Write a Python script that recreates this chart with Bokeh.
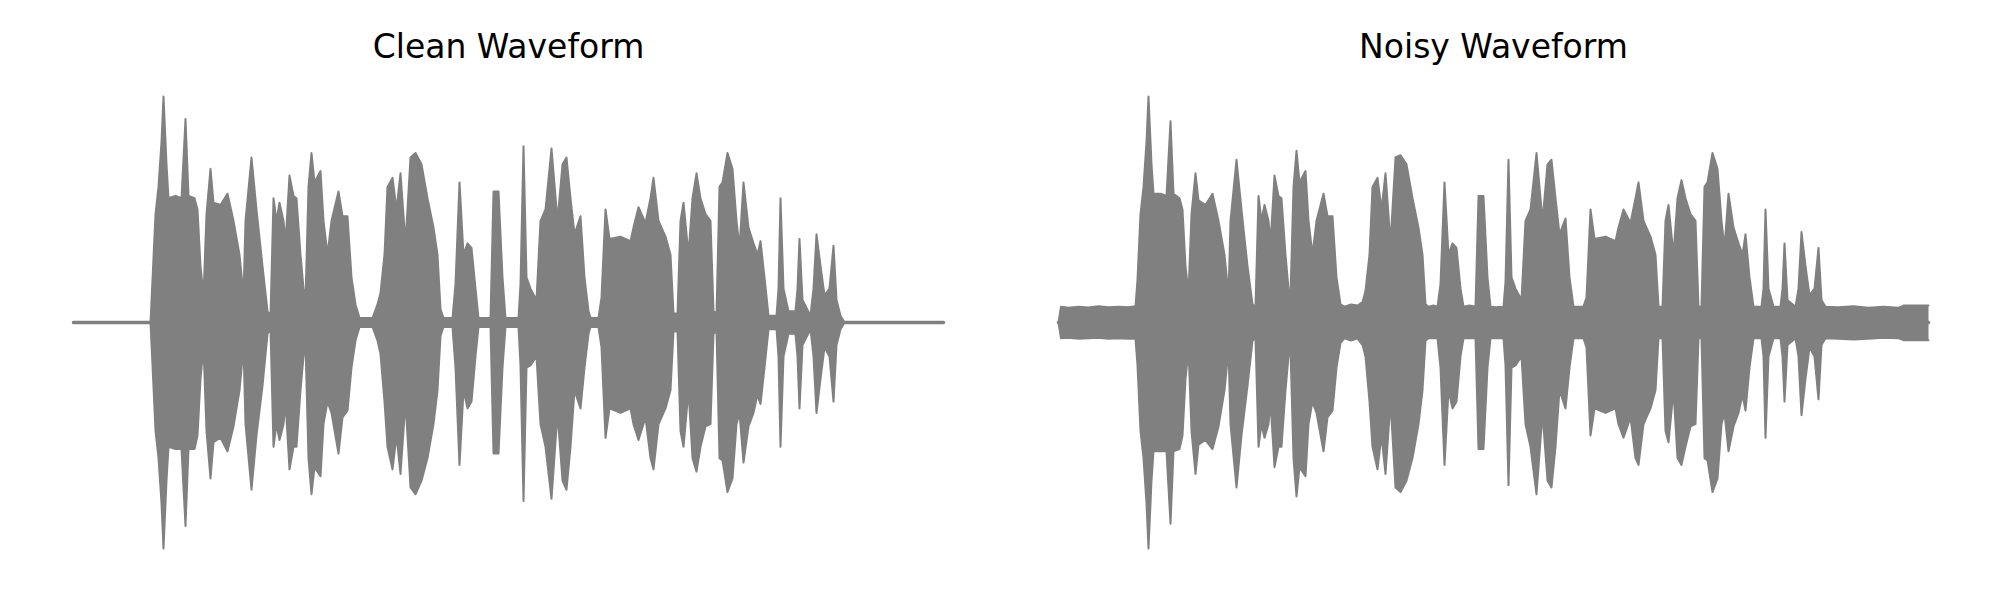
from bokeh.plotting import figure
from bokeh.layouts import row
from bokeh.models import Range1d, Label
from bokeh.embed import file_html
from bokeh.resources import INLINE

# ---- data: amplitude envelope (upper / lower) ----
titles = ["Clean Waveform", "Noisy Waveform"]

t_clean = [0.000, 0.308, 0.316, 0.328, 0.340, 0.352, 0.360, 0.372, 0.380, 0.408,
           0.432, 0.448, 0.460, 0.484, 0.496, 0.508, 0.520, 0.532, 0.548, 0.560,
           0.588, 0.616, 0.640, 0.664, 0.680, 0.688, 0.712, 0.732, 0.756, 0.776,
           0.788, 0.800, 0.812, 0.824, 0.840, 0.848, 0.864, 0.880, 0.892, 0.908,
           0.920, 0.928, 0.940, 0.952, 0.964, 0.988, 1.000, 1.016, 1.032, 1.060,
           1.076, 1.096, 1.112, 1.128, 1.144, 1.196, 1.216, 1.228, 1.244, 1.256,
           1.276, 1.292, 1.308, 1.328, 1.348, 1.368, 1.392, 1.416, 1.440, 1.456,
           1.468, 1.480, 1.516, 1.528, 1.544, 1.560, 1.576, 1.592, 1.608, 1.620,
           1.668, 1.680, 1.700, 1.716, 1.728, 1.780, 1.788, 1.800, 1.812, 1.828,
           1.852, 1.868, 1.888, 1.912, 1.936, 1.956, 1.972, 1.988, 2.004, 2.028,
           2.044, 2.060, 2.068, 2.100, 2.112, 2.128, 2.144, 2.188, 2.228, 2.240,
           2.260, 2.288, 2.308, 2.320, 2.340, 2.368, 2.388, 2.400, 2.416, 2.428,
           2.440, 2.460, 2.476, 2.492, 2.508, 2.528, 2.548, 2.560, 2.572, 2.584,
           2.596, 2.616, 2.636, 2.652, 2.664, 2.680, 2.700, 2.720, 2.736, 2.748,
           2.764, 2.780, 2.812, 2.820, 2.828, 2.840, 2.860, 2.888, 2.896, 2.904,
           2.916, 2.948, 2.960, 2.972, 2.988, 3.004, 3.024, 3.040, 3.052, 3.068,
           3.084, 3.480]
upper_clean = [0.00, 0.00, 0.19, 0.48, 0.60, 0.80, 1.00, 0.70, 0.55, 0.56,
               0.55, 0.90, 0.56, 0.55, 0.50, 0.25, 0.12, 0.48, 0.68, 0.53,
               0.52, 0.57, 0.45, 0.30, 0.12, 0.45, 0.73, 0.50, 0.25, 0.05,
               0.03, 0.55, 0.45, 0.53, 0.45, 0.35, 0.65, 0.56, 0.55, 0.30,
               0.15, 0.10, 0.60, 0.75, 0.62, 0.67, 0.45, 0.30, 0.45, 0.58,
               0.47, 0.47, 0.20, 0.08, 0.02, 0.02, 0.08, 0.13, 0.30, 0.60,
               0.64, 0.50, 0.66, 0.35, 0.73, 0.75, 0.70, 0.55, 0.42, 0.30,
               0.06, 0.02, 0.02, 0.17, 0.62, 0.30, 0.35, 0.33, 0.15, 0.02,
               0.02, 0.58, 0.58, 0.20, 0.02, 0.02, 0.17, 0.78, 0.20, 0.15,
               0.10, 0.45, 0.50, 0.77, 0.45, 0.70, 0.73, 0.55, 0.39, 0.47,
               0.20, 0.05, 0.02, 0.02, 0.11, 0.50, 0.37, 0.38, 0.36, 0.42,
               0.51, 0.44, 0.55, 0.64, 0.45, 0.38, 0.30, 0.04, 0.04, 0.45,
               0.53, 0.30, 0.55, 0.66, 0.55, 0.48, 0.45, 0.05, 0.04, 0.60,
               0.62, 0.75, 0.68, 0.45, 0.33, 0.62, 0.42, 0.35, 0.30, 0.36,
               0.20, 0.03, 0.03, 0.15, 0.55, 0.15, 0.05, 0.05, 0.15, 0.37,
               0.10, 0.03, 0.15, 0.39, 0.25, 0.12, 0.15, 0.34, 0.10, 0.03,
               0.00, 0.00]
lower_clean = [0.00, 0.00, -0.19, -0.48, -0.60, -0.80, -1.00, -0.70, -0.55, -0.56,
               -0.56, -0.90, -0.56, -0.56, -0.50, -0.25, -0.11, -0.48, -0.69, -0.53,
               -0.51, -0.57, -0.46, -0.30, -0.11, -0.45, -0.74, -0.50, -0.28, -0.05,
               -0.03, -0.55, -0.45, -0.52, -0.45, -0.35, -0.65, -0.55, -0.55, -0.30,
               -0.15, -0.10, -0.60, -0.76, -0.64, -0.68, -0.45, -0.35, -0.40, -0.58,
               -0.42, -0.39, -0.20, -0.08, -0.02, -0.02, -0.08, -0.14, -0.35, -0.55,
               -0.65, -0.50, -0.67, -0.35, -0.73, -0.76, -0.70, -0.60, -0.45, -0.30,
               -0.06, -0.02, -0.02, -0.20, -0.63, -0.30, -0.38, -0.35, -0.15, -0.02,
               -0.02, -0.58, -0.58, -0.20, -0.02, -0.02, -0.19, -0.79, -0.20, -0.19,
               -0.15, -0.45, -0.55, -0.78, -0.40, -0.70, -0.74, -0.55, -0.30, -0.38,
               -0.20, -0.05, -0.02, -0.02, -0.11, -0.51, -0.38, -0.40, -0.38, -0.45,
               -0.52, -0.42, -0.60, -0.65, -0.45, -0.38, -0.30, -0.04, -0.04, -0.48,
               -0.55, -0.30, -0.60, -0.66, -0.55, -0.46, -0.45, -0.05, -0.04, -0.60,
               -0.61, -0.75, -0.69, -0.45, -0.40, -0.62, -0.46, -0.40, -0.32, -0.36,
               -0.20, -0.03, -0.03, -0.15, -0.55, -0.15, -0.05, -0.05, -0.15, -0.38,
               -0.10, -0.03, -0.15, -0.40, -0.25, -0.11, -0.15, -0.35, -0.10, -0.03,
               0.00, 0.00]

t_noisy = [0.000, 0.010, 0.040, 0.080, 0.120, 0.160, 0.200, 0.240, 0.280, 0.308,
           0.316, 0.328, 0.340, 0.352, 0.360, 0.372, 0.380, 0.408, 0.432, 0.448,
           0.460, 0.484, 0.496, 0.508, 0.520, 0.532, 0.548, 0.560, 0.588, 0.616,
           0.640, 0.664, 0.680, 0.688, 0.712, 0.732, 0.756, 0.776, 0.788, 0.800,
           0.812, 0.824, 0.840, 0.848, 0.864, 0.880, 0.892, 0.908, 0.920, 0.928,
           0.940, 0.952, 0.964, 0.988, 1.000, 1.016, 1.032, 1.060, 1.076, 1.096,
           1.112, 1.128, 1.144, 1.170, 1.196, 1.216, 1.228, 1.244, 1.256, 1.276,
           1.292, 1.308, 1.328, 1.348, 1.368, 1.392, 1.416, 1.440, 1.456, 1.468,
           1.480, 1.500, 1.516, 1.528, 1.544, 1.560, 1.576, 1.592, 1.608, 1.620,
           1.644, 1.668, 1.680, 1.700, 1.716, 1.728, 1.750, 1.780, 1.788, 1.800,
           1.812, 1.828, 1.852, 1.868, 1.888, 1.912, 1.936, 1.956, 1.972, 1.988,
           2.004, 2.028, 2.044, 2.060, 2.080, 2.100, 2.112, 2.128, 2.144, 2.188,
           2.228, 2.240, 2.260, 2.288, 2.308, 2.320, 2.340, 2.368, 2.388, 2.400,
           2.416, 2.428, 2.440, 2.460, 2.476, 2.492, 2.508, 2.528, 2.548, 2.560,
           2.572, 2.584, 2.596, 2.616, 2.636, 2.652, 2.664, 2.680, 2.700, 2.720,
           2.736, 2.748, 2.764, 2.780, 2.812, 2.820, 2.828, 2.840, 2.860, 2.888,
           2.896, 2.904, 2.916, 2.948, 2.960, 2.972, 2.988, 3.004, 3.024, 3.040,
           3.052, 3.068, 3.120, 3.180, 3.240, 3.300, 3.360, 3.380, 3.440, 3.480]
upper_noisy = [0.000, 0.070, 0.065, 0.070, 0.066, 0.072, 0.068, 0.070, 0.068, 0.072,
               0.19, 0.48, 0.60, 0.80, 1.00, 0.70, 0.57, 0.57, 0.56, 0.89,
               0.57, 0.55, 0.50, 0.25, 0.13, 0.48, 0.66, 0.54, 0.52, 0.57,
               0.45, 0.30, 0.12, 0.45, 0.72, 0.50, 0.25, 0.08, 0.07, 0.56,
               0.45, 0.52, 0.45, 0.35, 0.65, 0.56, 0.55, 0.30, 0.15, 0.12,
               0.60, 0.76, 0.62, 0.67, 0.45, 0.30, 0.45, 0.57, 0.47, 0.47,
               0.20, 0.08, 0.07, 0.08, 0.075, 0.09, 0.14, 0.30, 0.60, 0.64,
               0.50, 0.66, 0.35, 0.73, 0.74, 0.70, 0.55, 0.42, 0.30, 0.08,
               0.07, 0.075, 0.07, 0.17, 0.62, 0.30, 0.35, 0.33, 0.15, 0.07,
               0.075, 0.07, 0.56, 0.56, 0.20, 0.07, 0.068, 0.07, 0.18, 0.72,
               0.20, 0.15, 0.10, 0.45, 0.50, 0.75, 0.45, 0.70, 0.72, 0.55,
               0.39, 0.46, 0.20, 0.07, 0.07, 0.07, 0.11, 0.50, 0.37, 0.38,
               0.36, 0.42, 0.50, 0.44, 0.55, 0.62, 0.45, 0.38, 0.30, 0.07,
               0.07, 0.45, 0.52, 0.30, 0.55, 0.63, 0.55, 0.48, 0.45, 0.07,
               0.07, 0.60, 0.62, 0.75, 0.68, 0.45, 0.33, 0.57, 0.42, 0.35,
               0.30, 0.39, 0.20, 0.07, 0.07, 0.15, 0.50, 0.15, 0.07, 0.07,
               0.15, 0.35, 0.10, 0.07, 0.15, 0.40, 0.25, 0.12, 0.15, 0.33,
               0.10, 0.07, 0.068, 0.072, 0.065, 0.070, 0.065, 0.075, 0.075, 0.075]
lower_noisy = [0.000, -0.070, -0.068, -0.072, -0.070, -0.068, -0.072, -0.070, -0.072, -0.072,
               -0.19, -0.48, -0.60, -0.80, -1.00, -0.70, -0.57, -0.57, -0.57, -0.89,
               -0.57, -0.56, -0.50, -0.25, -0.12, -0.48, -0.67, -0.54, -0.52, -0.56,
               -0.46, -0.30, -0.12, -0.45, -0.73, -0.50, -0.28, -0.08, -0.07, -0.55,
               -0.45, -0.51, -0.45, -0.35, -0.64, -0.55, -0.55, -0.30, -0.15, -0.12,
               -0.60, -0.77, -0.64, -0.68, -0.45, -0.35, -0.40, -0.57, -0.42, -0.39,
               -0.20, -0.09, -0.07, -0.08, -0.07, -0.10, -0.15, -0.35, -0.55, -0.65,
               -0.50, -0.67, -0.35, -0.73, -0.75, -0.70, -0.60, -0.45, -0.30, -0.08,
               -0.07, -0.07, -0.07, -0.20, -0.63, -0.30, -0.38, -0.35, -0.15, -0.07,
               -0.07, -0.07, -0.56, -0.56, -0.20, -0.07, -0.07, -0.07, -0.19, -0.72,
               -0.20, -0.19, -0.15, -0.45, -0.55, -0.76, -0.40, -0.70, -0.73, -0.55,
               -0.30, -0.38, -0.20, -0.07, -0.07, -0.07, -0.11, -0.50, -0.38, -0.40,
               -0.38, -0.45, -0.51, -0.42, -0.60, -0.63, -0.45, -0.38, -0.30, -0.07,
               -0.07, -0.48, -0.53, -0.30, -0.60, -0.63, -0.55, -0.46, -0.45, -0.07,
               -0.07, -0.60, -0.61, -0.75, -0.69, -0.45, -0.40, -0.57, -0.46, -0.40,
               -0.32, -0.39, -0.20, -0.07, -0.07, -0.15, -0.51, -0.15, -0.07, -0.07,
               -0.15, -0.35, -0.10, -0.07, -0.15, -0.41, -0.25, -0.11, -0.15, -0.34,
               -0.10, -0.07, -0.072, -0.075, -0.072, -0.068, -0.070, -0.078, -0.078, -0.078]

# ---- styling / layout ----
COLOR = "#808080"
FIG_W, FIG_H = 992, 584
PX_PER_SEC = 250.0
PX_PER_AMP = 226.0
ZERO_FROM_BOTTOM = 262.0


def panel(title, t, up, lo, left_offset):
    x0 = -left_offset / PX_PER_SEC
    y0 = -ZERO_FROM_BOTTOM / PX_PER_AMP
    p = figure(width=FIG_W, height=FIG_H, output_backend="svg", toolbar_location=None,
               x_range=Range1d(x0, x0 + FIG_W / PX_PER_SEC),
               y_range=Range1d(y0, y0 + FIG_H / PX_PER_AMP),
               min_border=0, min_border_left=0, min_border_right=0,
               min_border_top=0, min_border_bottom=0)
    p.axis.visible = False
    p.grid.visible = False
    p.outline_line_color = None
    p.background_fill_color = "white"
    p.border_fill_color = "white"
    p.varea(x=t, y1=lo, y2=up, fill_color=COLOR)
    p.line(t, up, line_color=COLOR, line_width=2, line_join="round", line_cap="round")
    p.line(t, lo, line_color=COLOR, line_width=2, line_join="round", line_cap="round")
    p.line([t[0], t[-1]], [0, 0], line_color=COLOR, line_width=3.5, line_cap="round")
    lab = Label(x=(t[0] + t[-1]) / 2, y=FIG_H - 46, x_units="data", y_units="screen",
                text=title, text_align="center", text_baseline="alphabetic",
                text_font="DejaVu Sans", text_font_size="33px", text_color="black")
    p.add_layout(lab)
    return p


p1 = panel(titles[0], t_clean, upper_clean, lower_clean, 73)
p2 = panel(titles[1], t_noisy, upper_noisy, lower_noisy, 66)

layout = row(p1, p2)
open("out.html", "w").write(file_html(layout, INLINE))
